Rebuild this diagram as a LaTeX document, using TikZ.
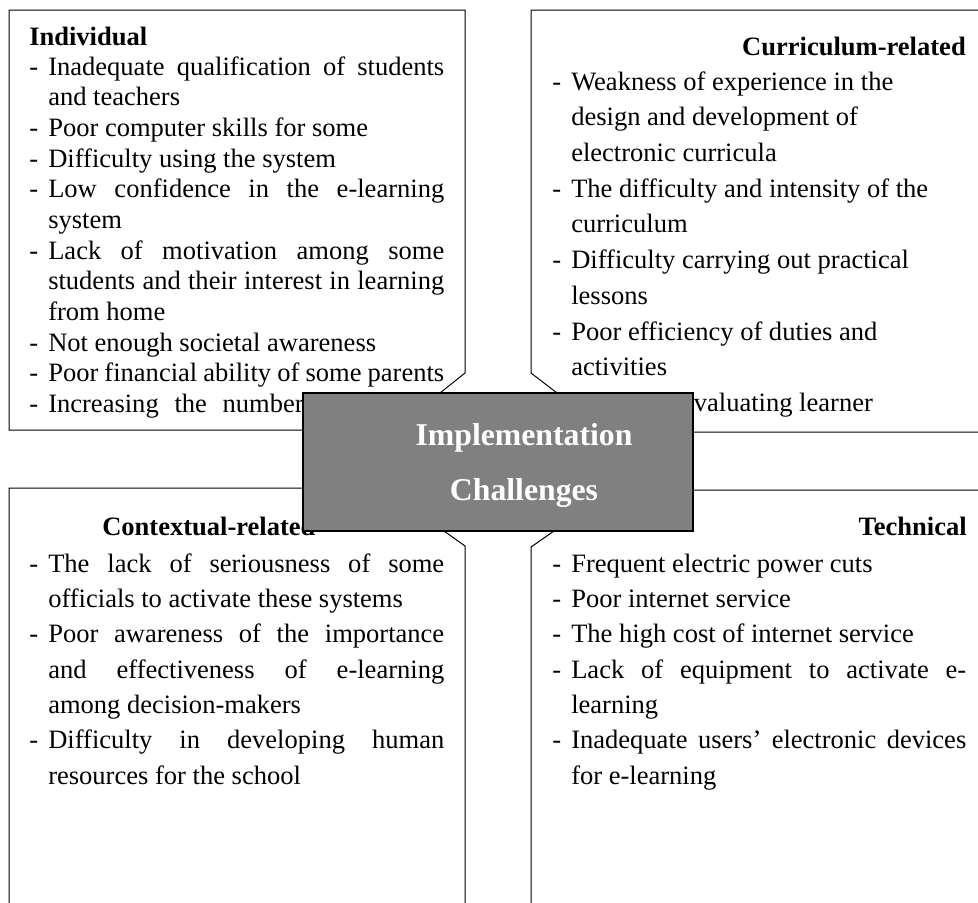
\documentclass[tikz,border=0pt]{standalone}
\usepackage{fontspec}
\setmainfont{Liberation Serif}
\newlength\pxu
\setlength\pxu{0.75pt}
\newcommand\itmf[1]{\hangindent=19\pxu\hangafter=1\noindent\makebox[19\pxu][l]{-}#1}
\newcommand\itm[1]{\par\itmf{#1}}
\newcommand\bodyset{\hyphenpenalty=10000\relax\exhyphenpenalty=10000\relax\tolerance=10000\relax\hbadness=10000\relax}
\newcommand\ragset{\rightskip=0pt plus 1fil\relax}
\definecolor{ctrgray}{HTML}{808080}
\tikzset{
  callout/.style={draw=black, line width=0.75pt, fill=white, line join=miter},
  body/.style={anchor=base west, inner sep=0pt, text width=415\pxu, align=justify,
    font=\fontsize{19.9pt}{26.5pt}\selectfont},
  tight/.style={font=\fontsize{19.9pt}{23pt}\selectfont},
  loose/.style={font=\fontsize{19.9pt}{26.8pt}\selectfont},
  ttl/.style={inner sep=0pt, font=\fontsize{19.9pt}{23pt}\selectfont\bfseries},
  ctrbox/.style={draw=black, line width=1.1pt, fill=ctrgray, inner sep=0pt,
    minimum width=390\pxu, minimum height=138\pxu},
  ctrtxt/.style={anchor=base, inner sep=0pt, text=white, font=\fontsize{23.8pt}{28pt}\selectfont\bfseries}
}
\begin{document}
\begin{tikzpicture}[x=0.75pt, y=-0.75pt]
\useasboundingbox (0,0) rectangle (978,903);
\clip (0,0) rectangle (978,903);
% callout outlines
\path[callout] (9,10) -- (465,10) -- (465,373) -- (440,393) -- (415,413) -- (380,430) -- (9,430) -- cycle;
\path[callout] (531,10) -- (531,373) -- (557,393) -- (580,410) -- (620,432) -- (990,432) -- (990,10) -- cycle;
\path[callout] (9,488) -- (380,488) -- (420,514) -- (444,531) -- (465,546) -- (465,910) -- (9,910) -- cycle;
\path[callout] (531,910) -- (531,547) -- (554,531) -- (600,505) -- (650,490) -- (990,490) -- (990,910) -- cycle;
% titles
\node[ttl, anchor=base west] (t1) at (29,45) {Individual};
\node[ttl, anchor=base east] (t2) at (966,55) {Curriculum-related};
\node[ttl, anchor=base west] (t3) at (102,535) {Contextual-related};
\node[ttl, anchor=base east] (t4) at (967,535) {Technical};
% bodies
\node[body, tight] (b1) at (29,75) {\bodyset\itmf{Inadequate qualification of students\linebreak and teachers}%
\itm{Poor computer skills for some}%
\itm{Difficulty using the system}%
\itm{Low confidence in the e-learning\linebreak system}%
\itm{Lack of motivation among some\linebreak students and their interest in learning\linebreak from home}%
\itm{Not enough societal awareness}%
\itm{Poor financial ability of some parents}%
\itm{\makebox[396\pxu][s]{Increasing the number of students}}\par};
\node[body, loose, text width=414\pxu] (b2) at (552,90) {\bodyset\ragset\itmf{Weakness of experience in the\linebreak design and development of\linebreak electronic curricula}%
\itm{The difficulty and intensity of the\linebreak curriculum}%
\itm{Difficulty carrying out practical\linebreak lessons}%
\itm{Poor efficiency of duties and\linebreak activities}%
\itm{Difficulty evaluating learner}\par};
\node[body] (b3) at (29,572) {\bodyset\itmf{The lack of seriousness of some\linebreak officials to activate these systems}%
\itm{Poor awareness of the importance\linebreak and effectiveness of e-learning\linebreak among decision-makers}%
\itm{Difficulty in developing human\linebreak resources for the school}\par};
\node[body, text width=414\pxu] (b4) at (552,572) {\bodyset\itmf{Frequent electric power cuts}%
\itm{Poor internet service}%
\itm{The high cost of internet service}%
\itm{Lack of equipment to activate e-\linebreak learning}%
\itm{Inadequate users’ electronic devices\linebreak for e-learning}\par};
% centre
\node[ctrbox] (ctr) at (498,462) {};
\node[ctrtxt] (c1) at (524,445) {Implementation};
\node[ctrtxt] (c2) at (524,500) {Challenges};
\end{tikzpicture}
\end{document}
